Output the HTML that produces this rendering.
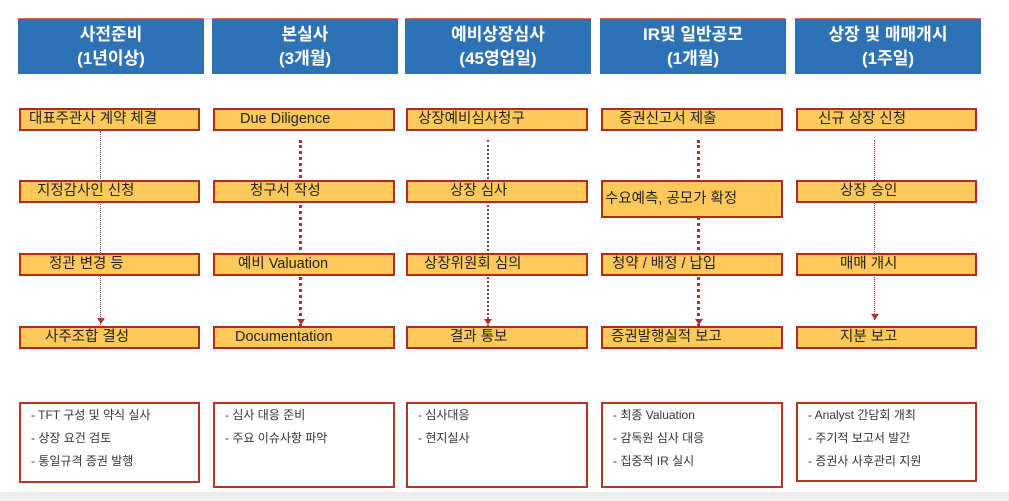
<!DOCTYPE html>
<html><head><meta charset="utf-8"><style>
body{margin:0;width:1009px;height:501px;background:#fff;position:relative;overflow:hidden;font-family:"Liberation Sans","Noto Sans CJK KR",sans-serif}
.h{position:absolute;top:18px;height:56px;width:186px;background:#2e72b6;color:#fff;font-size:17px;font-weight:bold;text-align:center;line-height:24px;padding-top:4px;box-sizing:border-box;border-top:1px solid #d66}
.y{position:absolute;height:23px;background:#fdc95a;border:2px solid #b02a1e;box-sizing:border-box;font-size:14.5px;line-height:19px;color:#222;white-space:nowrap}
.b{position:absolute;top:402px;border:2px solid #b53525;box-sizing:border-box;font-size:12px;color:#333;padding-top:3px}
.b div{height:23px;line-height:16px}
.v{position:absolute;width:0}
.ar{position:absolute;width:0;height:0;border-left:4px solid transparent;border-right:4px solid transparent;border-top:6px solid #a33}
.bot{position:absolute;left:0;top:492px;width:1009px;height:9px;background:#eee}
</style></head><body>
<div class="bot"></div>
<div class="h" style="left:18px">사전준비<br>(1년이상)</div>
<div class="h" style="left:212px">본실사<br>(3개월)</div>
<div class="h" style="left:405px">예비상장심사<br>(45영업일)</div>
<div class="h" style="left:600px">IR및 일반공모<br>(1개월)</div>
<div class="h" style="left:795px">상장 및 매매개시<br>(1주일)</div>

<div class="v" style="left:100px;top:131px;height:196px;border-left:1px dotted #a33"></div>
<div class="ar" style="left:97px;top:318px"></div>
<div class="v" style="left:299px;top:140px;height:187px;border-left:3px dotted #a33"></div>
<div class="ar" style="left:297px;top:319px"></div>
<div class="v" style="left:487px;top:140px;height:187px;border-left:2px dotted #a33"></div>
<div class="ar" style="left:484px;top:319px"></div>
<div class="v" style="left:697px;top:140px;height:187px;border-left:3px dotted #a33"></div>
<div class="ar" style="left:695px;top:319px"></div>
<div class="v" style="left:874px;top:140px;height:180px;border-left:1px dotted #a33"></div>
<div class="ar" style="left:871px;top:314px"></div>

<div class="y" style="left:19px;top:108px;width:181px;padding-left:8px">대표주관사 계약 체결</div>
<div class="y" style="left:19px;top:180px;width:181px;padding-left:16px">지정감사인 신청</div>
<div class="y" style="left:19px;top:253px;width:181px;padding-left:28px">정관 변경 등</div>
<div class="y" style="left:19px;top:326px;width:181px;padding-left:24px">사주조합 결성</div>
<div class="y" style="left:213px;top:108px;width:182px;padding-left:25px">Due Diligence</div>
<div class="y" style="left:213px;top:180px;width:182px;padding-left:35px">청구서 작성</div>
<div class="y" style="left:213px;top:253px;width:182px;padding-left:23px">예비 Valuation</div>
<div class="y" style="left:213px;top:326px;width:182px;padding-left:20px">Documentation</div>
<div class="y" style="left:406px;top:108px;width:182px;padding-left:10px">상장예비심사청구</div>
<div class="y" style="left:406px;top:180px;width:182px;padding-left:42px">상장 심사</div>
<div class="y" style="left:406px;top:253px;width:182px;padding-left:16px">상장위원회 심의</div>
<div class="y" style="left:406px;top:326px;width:182px;padding-left:42px">결과 통보</div>
<div class="y" style="left:601px;top:108px;width:182px;padding-left:16px">증권신고서 제출</div>
<div class="y" style="left:601px;top:180px;width:182px;height:38px;line-height:34px;padding-left:2px">수요예측, 공모가 확정</div>
<div class="y" style="left:601px;top:253px;width:182px;padding-left:9px">청약 / 배정 / 납입</div>
<div class="y" style="left:601px;top:326px;width:182px;padding-left:8px">증권발행실적 보고</div>
<div class="y" style="left:796px;top:108px;width:181px;padding-left:20px">신규 상장 신청</div>
<div class="y" style="left:796px;top:180px;width:181px;padding-left:42px">상장 승인</div>
<div class="y" style="left:796px;top:253px;width:181px;padding-left:42px">매매 개시</div>
<div class="y" style="left:796px;top:326px;width:181px;padding-left:42px">지분 보고</div>

<div class="b" style="left:19px;width:181px;height:81px;padding-left:10px"><div>- TFT 구성 및 약식 실사</div><div>- 상장 요건 검토</div><div>- 통일규격 증권 발행</div></div>
<div class="b" style="left:213px;width:182px;height:86px;padding-left:10px"><div>- 심사 대응 준비</div><div>- 주요 이슈사항 파악</div></div>
<div class="b" style="left:406px;width:182px;height:86px;padding-left:10px"><div>- 심사대응</div><div>- 현지실사</div></div>
<div class="b" style="left:601px;width:182px;height:86px;padding-left:10px"><div>- 최종 Valuation</div><div>- 감독원 심사 대응</div><div>- 집중적 IR 실시</div></div>
<div class="b" style="left:796px;width:181px;height:80px;padding-left:10px"><div>- Analyst 간담회 개최</div><div>- 주기적 보고서 발간</div><div>- 증권사 사후관리 지원</div></div>
</body></html>
